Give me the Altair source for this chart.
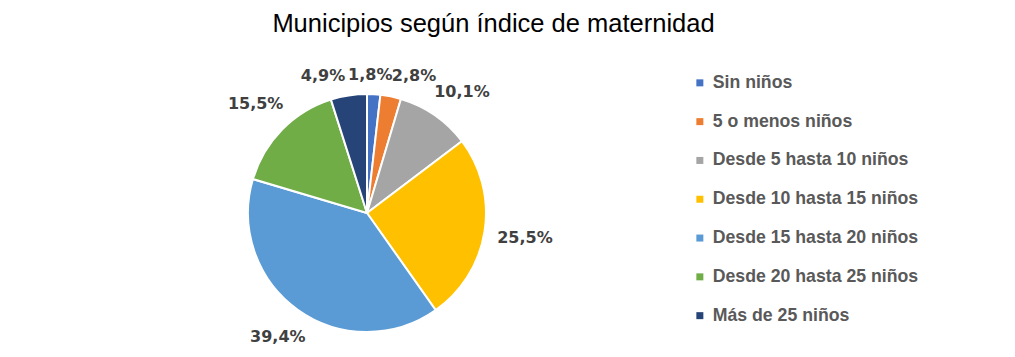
import altair as alt
import pandas as pd

title_text = ["Municipios según índice de maternidad"]
categories = ["Sin niños", "5 o menos niños", "Desde 5 hasta 10 niños",
              "Desde 10 hasta 15 niños", "Desde 15 hasta 20 niños",
              "Desde 20 hasta 25 niños", "Más de 25 niños"]
values = [1.8, 2.8, 10.1, 25.5, 39.4, 15.5, 4.9]
labels = ["1,8%", "2,8%", "10,1%", "25,5%", "39,4%", "15,5%", "4,9%"]
colors = ["#4472C4", "#ED7D31", "#A5A5A5", "#FFC000", "#5B9BD5", "#70AD47", "#264478"]

df = pd.DataFrame({"cat": categories, "v": values, "lab": labels,
                   "idx": list(range(len(categories)))})

CX, CY, R = 359, 205, 119
GAP = 30  # minimum angular gap (deg) between neighbouring labels

base = alt.Chart(df)

pie = base.mark_arc(radius=R, stroke="white", strokeWidth=2).encode(
    theta=alt.Theta("v:Q", stack=True),
    order=alt.Order("idx:Q", sort="ascending"),
    color=alt.Color("cat:N", sort=categories,
                    scale=alt.Scale(domain=categories, range=colors),
                    legend=alt.Legend(title=None, orient="none",
                                      legendX=683, legendY=66,
                                      symbolType="square", symbolSize=49,
                                      symbolStrokeWidth=0,
                                      labelFont="Liberation Sans",
                                      labelFontSize=17.7, labelFontWeight="bold",
                                      labelColor="#595959", labelOffset=4,
                                      rowPadding=19.8, padding=0,
                                      labelLimit=400)),
    x=alt.value(CX), y=alt.value(CY),
)

text = base.transform_window(
    cum="sum(v)", sort=[alt.SortField("idx")], frame=[None, 0]
).transform_joinaggregate(
    total="sum(v)"
).transform_calculate(
    mid="(datum.cum - datum.v/2) / datum.total * 360"
).transform_window(
    prev="lag(mid)", nxt="lead(mid)",
    sort=[alt.SortField("idx")],
).transform_window(
    firstmid="first_value(mid)", lastmid="last_value(mid)",
    sort=[alt.SortField("idx")], frame=[None, None],
).transform_calculate(
    prevmid="datum.prev == null ? datum.lastmid - 360 : datum.prev",
    nextmid="datum.nxt == null ? datum.firstmid + 360 : datum.nxt",
).transform_calculate(
    adj=f"datum.mid + max(0, ({GAP} - (datum.mid - datum.prevmid))/2)"
        f" - max(0, ({GAP} - (datum.nextmid - datum.mid))/2)"
).transform_calculate(
    ang="datum.adj * PI / 180",
    hw="6 * length(datum.lab)",
).transform_calculate(
    r="129 + datum.hw*abs(sin(datum.ang)) + 8*abs(cos(datum.ang))"
).transform_calculate(
    lx=f"{CX} + datum.r*sin(datum.ang)",
    ly=f"{CY} - datum.r*cos(datum.ang)",
).mark_text(font="DejaVu Sans", fontSize=16, fontWeight="bold",
            color="#404040", align="center", baseline="middle").encode(
    x=alt.X("lx:Q", scale=None),
    y=alt.Y("ly:Q", scale=None),
    text="lab:N",
)

title = alt.Chart(pd.DataFrame({"t": title_text})).mark_text(
    font="Liberation Sans", fontSize=25.5, fontWeight="normal",
    color="#000000", align="center", baseline="alphabetic",
).encode(x=alt.value(485.5), y=alt.value(24), text="t:N")

chart = alt.layer(pie, text, title).properties(
    width=999, height=341,
    autosize=alt.AutoSizeParams(type="none"),
    padding=0,
).configure_view(stroke=None)

chart.save("out.html", embed_options={"renderer": "svg", "actions": False})
